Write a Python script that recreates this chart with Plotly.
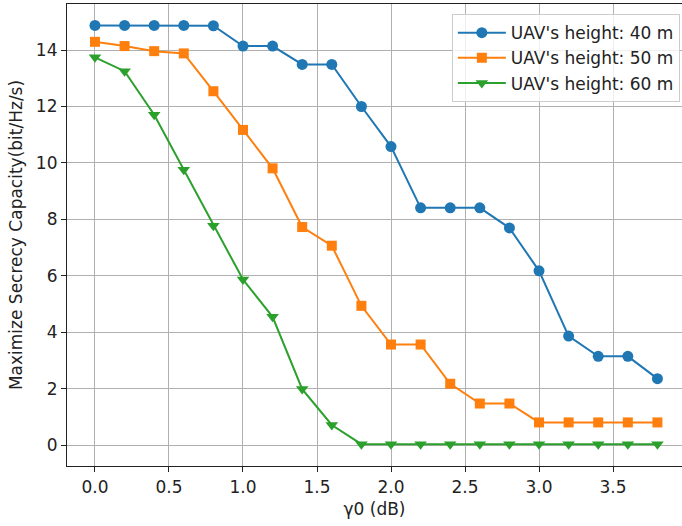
import plotly.graph_objects as go

gamma0 = [0.0, 0.2, 0.4, 0.6, 0.8, 1.0, 1.2, 1.4, 1.6, 1.8,
          2.0, 2.2, 2.4, 2.6, 2.8, 3.0, 3.2, 3.4, 3.6, 3.8]
h40 = [14.87, 14.87, 14.87, 14.87, 14.86, 14.14, 14.14, 13.49, 13.49, 12.0,
       10.58, 8.41, 8.41, 8.41, 7.7, 6.18, 3.87, 3.15, 3.15, 2.36]
h50 = [14.29, 14.14, 13.96, 13.88, 12.54, 11.17, 9.81, 7.73, 7.07, 4.94,
       3.57, 3.57, 2.18, 1.48, 1.48, 0.81, 0.81, 0.81, 0.81, 0.81]
h60 = [13.74, 13.25, 11.71, 9.76, 7.78, 5.87, 4.55, 1.99, 0.72, 0.04,
       0.04, 0.04, 0.04, 0.04, 0.04, 0.04, 0.04, 0.04, 0.04, 0.04]
names = ["UAV's height: 40 m", "UAV's height: 50 m", "UAV's height: 60 m"]
colors = ["#1f77b4", "#ff7f0e", "#2ca02c"]
symbols = ["circle", "square", "triangle-down"]
sizes = [11, 10, 11]
yticks = [0, 2, 4, 6, 8, 10, 12, 14]
xticks = [0.0, 0.5, 1.0, 1.5, 2.0, 2.5, 3.0, 3.5]

FONT = "DejaVu Sans"
FS = 17
fig = go.Figure()
for ys, nm, c, s, sz in zip([h40, h50, h60], names, colors, symbols, sizes):
    fig.add_trace(go.Scatter(
        x=gamma0, y=ys, name=nm, mode="lines+markers",
        line=dict(color=c, width=2),
        marker=dict(symbol=s, size=sz, color=c, line=dict(width=0)),
    ))

fig.update_layout(
    width=682, height=526,
    margin=dict(l=67, r=0, t=4, b=60),
    plot_bgcolor="white", paper_bgcolor="white",
    font=dict(family=FONT, size=FS, color="#222"),
    showlegend=True,
    legend=dict(
        x=0.9965, y=0.978, xanchor="right", yanchor="top",
        bgcolor="rgba(255,255,255,0.8)", bordercolor="#cccccc", borderwidth=1,
        font=dict(family=FONT, size=FS, color="#222"),
        itemwidth=48,
    ),
)
fig.update_xaxes(
    range=[-0.189, 3.966], tickvals=xticks,
    ticktext=[f"{v:.1f}" for v in xticks],
    showgrid=True, gridcolor="#b0b0b0", gridwidth=1,
    showline=True, linecolor="#222", linewidth=1.2, mirror=True,
    ticks="outside", ticklen=5, tickcolor="#222", tickwidth=1,
    zeroline=False,
    title=dict(text="γ0 (dB)", font=dict(family=FONT, size=FS), standoff=7),
)
fig.update_yaxes(
    range=[-0.733, 15.63], tickvals=yticks,
    showgrid=True, gridcolor="#b0b0b0", gridwidth=1,
    showline=True, linecolor="#222", linewidth=1.2, mirror=False,
    ticks="outside", ticklen=5, tickcolor="#222", tickwidth=1,
    zeroline=False,
    title=dict(text="Maximize Secrecy Capacity(bit/Hz/s)", font=dict(family=FONT, size=FS), standoff=8),
)
fig.write_html("out.html")
